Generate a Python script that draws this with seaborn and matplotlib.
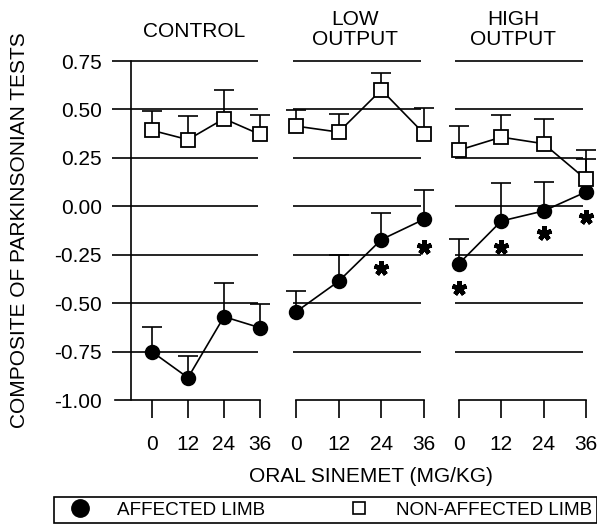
import matplotlib
matplotlib.use("Agg")
import matplotlib.pyplot as plt
import numpy as np
import pandas as pd
import seaborn as sns
from matplotlib.lines import Line2D

# ---- data -------------------------------------------------------------
doses = [0, 12, 24, 36]
group_titles = ["CONTROL", "LOW\nOUTPUT", "HIGH\nOUTPUT"]
limb_labels = ["AFFECTED LIMB", "NON-AFFECTED LIMB"]

control_affected = [-0.751, -0.885, -0.570, -0.627]
control_affected_err = [0.126, 0.112, 0.175, 0.122]
control_nonaffected = [0.392, 0.344, 0.452, 0.371]
control_nonaffected_err = [0.098, 0.121, 0.146, 0.098]

low_affected = [-0.545, -0.387, -0.172, -0.067]
low_affected_err = [0.108, 0.137, 0.139, 0.153]
low_nonaffected = [0.414, 0.383, 0.601, 0.375]
low_nonaffected_err = [0.081, 0.095, 0.088, 0.134]

high_affected = [-0.296, -0.076, -0.024, 0.074]
high_affected_err = [0.129, 0.196, 0.149, 0.172]
high_nonaffected = [0.290, 0.357, 0.323, 0.139]
high_nonaffected_err = [0.122, 0.112, 0.129, 0.153]

# significance markers (dose, y position)
low_sig_doses = [24, 36]
low_sig_y = [-0.32, -0.21]
high_sig_doses = [0, 12, 24, 36]
high_sig_y = [-0.423, -0.21, -0.139, -0.057]

y_ticks = [0.75, 0.50, 0.25, 0.00, -0.25, -0.50, -0.75, -1.00]
y_tick_labels = ["0.75", "0.50", "0.25", "0.00", "-0.25", "-0.50", "-0.75", "-1.00"]

series = {
    "CONTROL": (control_affected, control_affected_err,
                control_nonaffected, control_nonaffected_err, [], []),
    "LOW\nOUTPUT": (low_affected, low_affected_err,
                    low_nonaffected, low_nonaffected_err,
                    low_sig_doses, low_sig_y),
    "HIGH\nOUTPUT": (high_affected, high_affected_err,
                     high_nonaffected, high_nonaffected_err,
                     high_sig_doses, high_sig_y),
}

rows = []
for g in group_titles:
    aff, aff_e, non, non_e, _, _ = series[g]
    for d, m, e in zip(doses, aff, aff_e):
        rows.append((g, limb_labels[0], d, m, e))
    for d, m, e in zip(doses, non, non_e):
        rows.append((g, limb_labels[1], d, m, e))
df = pd.DataFrame(rows, columns=["group", "limb", "dose", "score", "err"])

# ---- style ------------------------------------------------------------
sns.set_theme(style="white", rc={
    "text.color": "black", "axes.labelcolor": "black",
    "xtick.color": "black", "ytick.color": "black",
    "axes.edgecolor": "black",
})
plt.rcParams["font.family"] = ["Liberation Sans", "DejaVu Sans"]

W, H = 597, 527
fig = plt.figure(figsize=(W / 100, H / 100), dpi=100)

# pixel layout of each panel: axes left/right, x of dose 0, px per dose unit,
# gridline span
y_top_px, y_bot_px = 61, 400
panels = [
    dict(left=112, right=261, x0=152, scale=3.0, grid=(112, 258)),
    dict(left=293, right=425, x0=296, scale=128 / 36, grid=(293, 421)),
    dict(left=455, right=587, x0=459, scale=127 / 36, grid=(455, 583)),
]

LW = 1.2
face = {limb_labels[0]: "black", limb_labels[1]: "white"}
mark = {limb_labels[0]: "o", limb_labels[1]: "s"}

for i, (g, p) in enumerate(zip(group_titles, panels)):
    ax = fig.add_axes([p["left"] / W, (H - y_bot_px) / H,
                       (p["right"] - p["left"]) / W, (y_bot_px - y_top_px) / H])
    to_data = lambda px: (px - p["x0"]) / p["scale"]
    ax.set_xlim(to_data(p["left"]), to_data(p["right"]))
    ax.set_ylim(-1.0, 0.75)

    # horizontal reference lines
    g0, g1 = to_data(p["grid"][0]), to_data(p["grid"][1])
    levels = y_ticks[:-1]
    ax.hlines(levels, g0, g1, color="black", lw=LW, zorder=1, clip_on=False)

    for limb in limb_labels:
        sub = df[(df["group"] == g) & (df["limb"] == limb)]
        eb = ax.errorbar(sub["dose"], sub["score"],
                         yerr=[np.zeros(len(sub)), sub["err"]],
                         fmt="none", ecolor="black", elinewidth=LW,
                         capsize=7, capthick=LW, zorder=2, clip_on=False)
        eb.lines[1][0].set_visible(False)  # only the upper cap is drawn
        for c in eb.lines[2]:
            c.set_clip_on(False)
        for c in eb.lines[1]:
            c.set_clip_on(False)
        sns.lineplot(data=sub, x="dose", y="score", ax=ax, color="black",
                     marker=mark[limb], markersize=9.8 if limb == limb_labels[0] else 10,
                     mfc=face[limb], mec="black", mew=1.3, lw=LW,
                     errorbar=None, legend=False, zorder=3, clip_on=False)
        ax.lines[-1].set_markerfacecolor(face[limb])

    _, _, _, _, sig_x, sig_y = series[g]
    if sig_x:
        ax.plot(sig_x, sig_y, ls="none", marker=(5, 2, 0), ms=10.5, mew=3.3,
                color="black", zorder=4, clip_on=False)

    for s in ["top", "right", "left"]:
        ax.spines[s].set_visible(False)
    ax.spines["bottom"].set_linewidth(LW)
    ax.spines["bottom"].set_zorder(1)
    ax.set_xticks(doses)
    ax.set_xticklabels([str(d) for d in doses])
    ax.tick_params(axis="x", bottom=True, direction="out", length=13,
                   width=LW, pad=12, labelsize=15)
    ax.set_xlabel("")
    ax.set_ylabel("")
    if i == 0:
        ax.spines["bottom"].set_bounds(to_data(115), 36)
        ax.axvline(to_data(131), color="black", lw=LW, zorder=1, clip_on=False)
        ax.set_yticks(y_ticks)
        ax.set_yticklabels(y_tick_labels)
        ax.tick_params(axis="y", left=True, length=0, pad=7.2, labelsize=15)
    else:
        ax.spines["bottom"].set_bounds(0, 36)
        ax.set_yticks([])

# panel titles
title_pos = [(194, 31.5), (355, 29.5), (513, 29.5)]
for t, (tx, ty) in zip(group_titles, title_pos):
    fig.text(tx / W, 1 - ty / H, t, ha="center", va="center",
             multialignment="center", fontsize=15, linespacing=1.05)

fig.text(371 / W, 1 - 476 / H, "ORAL SINEMET (MG/KG)", ha="center",
         va="center", fontsize=15)
fig.text(20 / W, 1 - 230 / H, "COMPOSITE OF PARKINSONIAN TESTS", ha="center",
         va="center", rotation=90, fontsize=15)

handles = [
    Line2D([], [], ls="none", marker="o", ms=12.5, mfc="black", mec="black", mew=1.0),
    Line2D([], [], ls="none", marker="s", ms=9, mfc="white", mec="black", mew=1.2),
]
leg = fig.legend(handles, limb_labels, loc="center", ncol=2, mode="expand",
                 bbox_to_anchor=(54 / W, (H - 510) / H, (W - 54) / W, 0),
                 borderaxespad=0, borderpad=0.25, handlelength=2.27,
                 handletextpad=0.84, fontsize=13.6, frameon=True,
                 fancybox=False, edgecolor="black", framealpha=1)
leg.get_frame().set_linewidth(LW)

fig.savefig("out.png", dpi=100)
